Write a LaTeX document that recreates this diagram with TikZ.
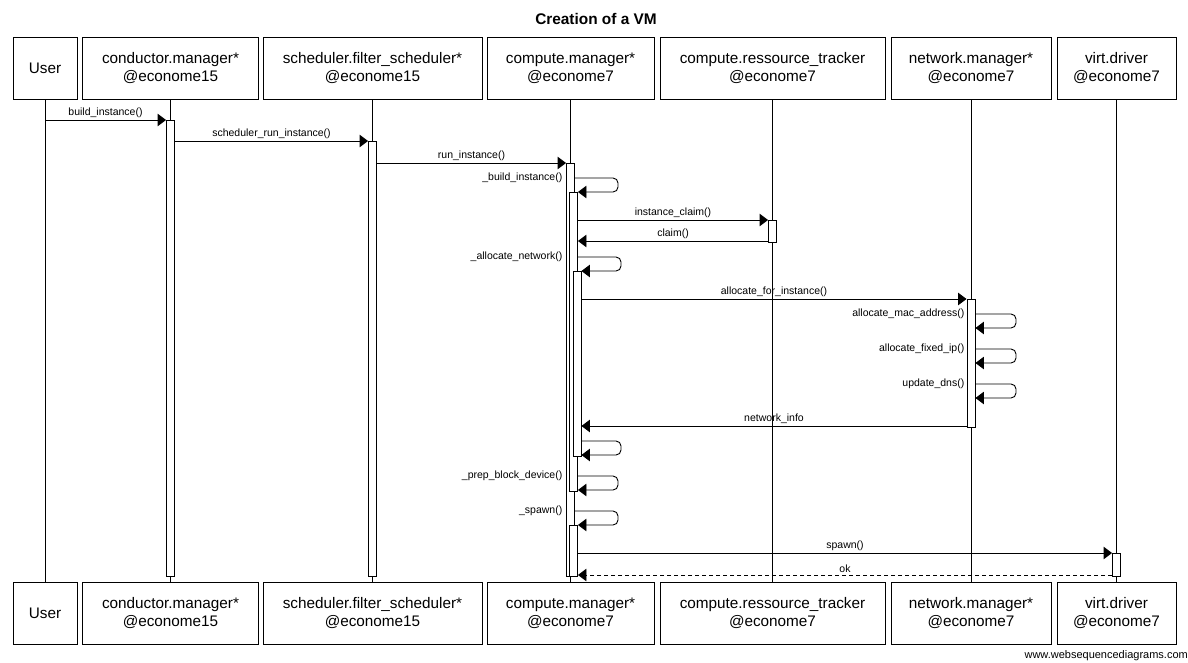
\documentclass[tikz,border=0pt]{standalone}
\usepackage{fontspec}
\setmainfont{Liberation Sans}
\usetikzlibrary{arrows.meta}

\begin{document}
\begin{tikzpicture}[x=1pt,y=-1pt,
  part/.style={draw, line width=0.9pt, minimum height=62pt, align=center, inner sep=0pt, font=\fontsize{15.3pt}{18pt}\selectfont},
  bar/.style={draw, fill=white, line width=0.9pt, minimum width=8pt, inner sep=0pt, anchor=north},
  life/.style={line width=0.9pt},
  msg/.style={line width=0.9pt, -{Triangle[length=8.5pt,width=12.5pt]}},
  ret/.style={msg, dash pattern=on 4pt off 3pt},
  selfmsg/.style={msg, rounded corners=5pt},
  lbl/.style={font=\fontsize{10.5pt}{12pt}\selectfont, inner sep=1.5pt}]
\useasboundingbox (0,0) rectangle (1188,662);

\node[font=\fontsize{15.4pt}{18pt}\selectfont\bfseries] (title) at (596,19) {Creation of a VM};

% participants, top and bottom
\node[part, minimum width=64pt]  (user)  at (45,68)    {User};
\node[part, minimum width=176pt] (cond)  at (170.5,68) {conductor.manager*\\@econome15};
\node[part, minimum width=219pt] (sched) at (372.5,68) {scheduler.filter\_scheduler*\\@econome15};
\node[part, minimum width=167pt] (comp)  at (570.5,68) {compute.manager*\\@econome7};
\node[part, minimum width=225pt] (track) at (772.5,68) {compute.ressource\_tracker\\@econome7};
\node[part, minimum width=160pt] (net)   at (971,68)   {network.manager*\\@econome7};
\node[part, minimum width=119pt] (virt)  at (1116.5,68) {virt.driver\\@econome7};

\node[part, minimum width=64pt]  (userB)  at (45,613)    {User};
\node[part, minimum width=176pt] (condB)  at (170.5,613) {conductor.manager*\\@econome15};
\node[part, minimum width=219pt] (schedB) at (372.5,613) {scheduler.filter\_scheduler*\\@econome15};
\node[part, minimum width=167pt] (compB)  at (570.5,613) {compute.manager*\\@econome7};
\node[part, minimum width=225pt] (trackB) at (772.5,613) {compute.ressource\_tracker\\@econome7};
\node[part, minimum width=160pt] (netB)   at (971,613)   {network.manager*\\@econome7};
\node[part, minimum width=119pt] (virtB)  at (1116.5,613) {virt.driver\\@econome7};

\path[draw,life] (user) -- (userB);
\path[draw,life] (cond) -- (condB);
\path[draw,life] (sched) -- (schedB);
\path[draw,life] (comp) -- (compB);
\path[draw,life] (track) -- (trackB);
\path[draw,life] (net) -- (netB);
\path[draw,life] (virt) -- (virtB);

% activations
\node[bar, minimum height=456pt] (cb) at (170.5,120) {};
\node[bar, minimum height=435pt] (sb) at (372.5,141) {};
\node[bar, minimum height=413pt] (a1) at (570.5,163) {};
\node[bar, minimum height=299pt] (a2) at (573.5,192) {};
\node[bar, minimum height=22pt]  (tb) at (772.5,220) {};
\node[bar, minimum height=185pt] (a3) at (577,271) {};
\node[bar, minimum height=128pt] (nb) at (971,299) {};
\node[bar, minimum height=51pt]  (a4) at (573.5,525) {};
\node[bar, minimum height=23pt]  (vb) at (1116.5,553) {};

% messages
\path[draw,msg] (user |- 0,120) -- node[lbl,above] {build\_instance()} (cb.west |- 0,120);
\path[draw,msg] (cb.east |- 0,141) -- node[lbl,above] {scheduler\_run\_instance()} (sb.west |- 0,141);
\path[draw,msg] (sb.east |- 0,163) -- node[lbl,above] {run\_instance()} (a1.west |- 0,163);

\path[draw,selfmsg] (a1.east |- 0,178) -- (618,178) -- (618,192) -- (a2.east |- 0,192);
\node[lbl,anchor=east] (l1) at (564,178) {\_build\_instance()};

\path[draw,msg] (a2.east |- 0,220) -- node[lbl,above] {instance\_claim()} (tb.west |- 0,220);
\path[draw,msg] (tb.west |- 0,241) -- node[lbl,above] {claim()} (a2.east |- 0,241);

\path[draw,selfmsg] (a2.east |- 0,257) -- (621,257) -- (621,271) -- (a3.east |- 0,271);
\node[lbl,anchor=east] (l2) at (564,257) {\_allocate\_network()};

\path[draw,msg] (a3.east |- 0,299) -- node[lbl,above] {allocate\_for\_instance()} (nb.west |- 0,299);

\path[draw,selfmsg] (nb.east |- 0,314) -- (1016,314) -- (1016,328) -- (nb.east |- 0,328);
\node[lbl,anchor=east] (l3) at (966,314) {allocate\_mac\_address()};
\path[draw,selfmsg] (nb.east |- 0,349) -- (1016,349) -- (1016,363) -- (nb.east |- 0,363);
\node[lbl,anchor=east] (l4) at (966,349) {allocate\_fixed\_ip()};
\path[draw,selfmsg] (nb.east |- 0,384) -- (1016,384) -- (1016,398) -- (nb.east |- 0,398);
\node[lbl,anchor=east] (l5) at (966,384) {update\_dns()};

\path[draw,msg] (nb.west |- 0,426) -- node[lbl,above] {network\_info} (a3.east |- 0,426);

\path[draw,selfmsg] (a3.east |- 0,441) -- (621,441) -- (621,455) -- (a3.east |- 0,455);

\path[draw,selfmsg] (a2.east |- 0,476) -- (618,476) -- (618,490) -- (a2.east |- 0,490);
\node[lbl,anchor=east] (l6) at (564,476) {\_prep\_block\_device()};

\path[draw,selfmsg] (a1.east |- 0,511) -- (618,511) -- (618,525) -- (a4.east |- 0,525);
\node[lbl,anchor=east] (l7) at (564,511) {\_spawn()};

\path[draw,msg] (a4.east |- 0,553) -- node[lbl,above] {spawn()} (vb.west |- 0,553);
\path[draw,ret] (vb.west |- 0,575) -- node[lbl,above] {ok} (a4.east |- 0,575);

\node[font=\fontsize{11pt}{13pt}\selectfont, anchor=south east, inner sep=0pt] (footer) at (1188,661) {www.websequencediagrams.com};
\end{tikzpicture}
\end{document}
